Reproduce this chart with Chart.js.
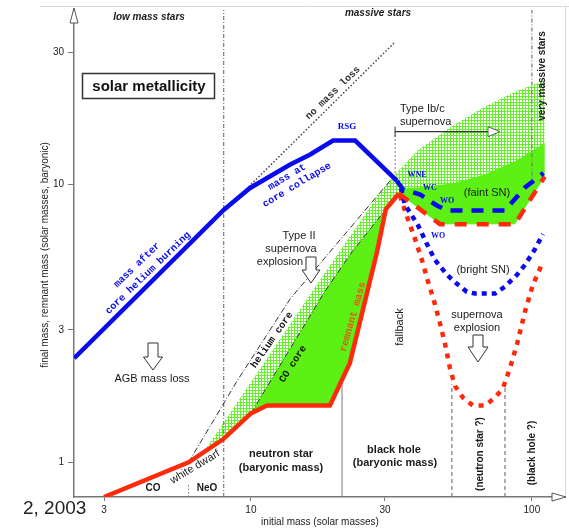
<!DOCTYPE html>
<html>
<head>
<meta charset="utf-8">
<script src="https://cdn.jsdelivr.net/npm/chart.js@4.4.0/dist/chart.umd.min.js"></script>
<style>
  html, body { margin: 0; padding: 0; background: #fff; }
  #wrap { width: 569px; height: 531px; }
</style>
</head>
<body>
<div id="wrap"><canvas id="grafico" width="569" height="531"></canvas></div>
<script>
// Marcas dos eixos (log)
const ticksX = [3, 10, 30, 100];
const ticksY = [1, 3, 10, 30];

// Massa final (azul contínua): após queima de hélio / no colapso do núcleo
const azulX = [2.35, 8, 9.9, 13.8, 16.2, 19.6, 23.5, 33.1];
const azulY = [2.37, 8.1, 9.7, 11.8, 12.8, 14.4, 14.4, 10.3];

// Azul tracejada (faint SN) e pontilhada (bright SN)
const azulFracaX = [33.1, 34.8, 40.0, 45.9, 49.9, 80.2, 94.5, 110];
const azulFracaY = [10.3, 9.6, 9.21, 8.41, 8.07, 8.07, 9.76, 11.0];
const azulBrilhoX = [34.2, 35.3, 39.3, 42.3, 45.2, 49.9, 54.1, 58.7, 62.7, 73.9, 80.2, 88.5, 94.5, 102.6, 109.5];
const azulBrilhoY = [9.68, 8.48, 7.14, 6.11, 5.35, 4.73, 4.39, 4.11, 4.05, 4.05, 4.29, 4.73, 5.14, 5.86, 6.63];

// Massa remanescente (vermelha contínua)
const vermelhaX = [3, 6, 7.96, 10, 11.4, 19.1, 22.5, 28.1, 30.2, 33.6];
const vermelhaY = [0.75, 1.0, 1.21, 1.5, 1.6, 1.6, 2.28, 5.72, 8.14, 9.28];

// Vermelha tracejada (faint SN) e pontilhada (bright SN)
const vermelhaFracaX = [33.6, 47.1, 87.0, 111];
const vermelhaFracaY = [9.28, 7.20, 7.20, 10.68];
const vermelhaBrilhoX = [33.9, 36.2, 38.4, 40.6, 42.7, 45.2, 47.1, 49.1, 51.1, 53.3, 56.8, 61.7, 68.1, 73.9, 78.9, 83.5, 88.5, 94.5, 100.9, 109.5];
const vermelhaBrilhoY = [9.13, 7.50, 6.36, 5.35, 4.47, 3.70, 3.16, 2.66, 2.18, 1.88, 1.71, 1.60, 1.60, 1.71, 1.85, 2.18, 2.66, 3.49, 4.36, 5.27];

// Núcleo de hélio, núcleo CO e "no mass loss"
const helioX = [6, 8.92, 13.8, 19.1, 32];
const helioY = [1, 1.96, 3.88, 5.72, 10.6];
const coX = [10, 18.3, 22.9, 30.2];
const coY = [1.5, 4.11, 5.72, 8.14];
const semPerdaX = [8, 32.3];
const semPerdaY = [8, 32.3];

// Bordas das regiões verdes
const hachuraTopoX = [6.86, 16.5, 28.8, 32.6, 39.3, 51.9, 68.1, 89.2, 111];
const hachuraTopoY = [1.104, 4.11, 9.36, 10.86, 13.3, 16.2, 19.1, 21.8, 23.7];
const verdeTopoX = [33.6, 33.9, 39.3, 51.9, 68.1, 89.2, 111];
const verdeTopoY = [9.28, 9.68, 9.76, 10.08, 10.86, 12.28, 14.13];

// Linhas divisórias verticais: [x, yInicio, yFim]
const divCO = [6, 0.75, 0.84];
const divBaixa = [8, 0.75, 42.5];
const divBuraco = [21.1, 0.75, 1.95];
const divFallback = [32.6, 11.0, 15.7];
const divNeutron = [51.9, 0.75, 1.91];
const divBuracoQ = [80.2, 0.75, 1.91];
const divMuito = [100, 10, 42.5];
// Seta Type Ib/c: [xInicio, xFim, y]
const setaIbc = [32.6, 77, 15.5];

function pts(xs, ys) {
  return xs.map((x, i) => ({ x: x, y: ys[i] }));
}
function vert(d) {
  return [{ x: d[0], y: d[1] }, { x: d[0], y: d[2] }];
}
function rev(a) {
  return a.slice().reverse();
}

const ctx = document.getElementById('grafico').getContext('2d');

// Padrão quadriculado verde
function criarHachura() {
  const c = document.createElement('canvas');
  c.width = 3; c.height = 3;
  const g = c.getContext('2d');
  g.fillStyle = '#ffffff';
  g.fillRect(0, 0, 3, 3);
  g.fillStyle = '#66f22a';
  g.fillRect(0, 0, 3, 1);
  g.fillRect(0, 0, 1, 3);
  return ctx.createPattern(c, 'repeat');
}

// Polígonos das regiões
const vermelhaPts = pts(vermelhaX, vermelhaY);
const vermelhaFracaPts = pts(vermelhaFracaX, vermelhaFracaY);
const poligonoHachura = pts(hachuraTopoX, hachuraTopoY)
  .concat(rev(vermelhaFracaPts))
  .concat(rev(vermelhaPts.filter(p => p.x >= 7.9 && p.x < 33.6)));
const poligonoVerdeEsq = pts(coX, coY)
  .concat(rev(vermelhaPts.filter(p => p.x > 10 && p.x < 30)))
  .concat([{ x: coX[0], y: coY[0] }]);
const poligonoVerdeDir = pts(verdeTopoX, verdeTopoY).concat(rev(vermelhaFracaPts));

const AZUL = '#0a0af0';
const VERMELHO = '#ff2a0a';
const CINZA = '#7a7a7a';

function linha(data, cor, largura, dash) {
  return { data: data, borderColor: cor, borderWidth: largura, borderDash: dash || [], fill: false, pointRadius: 0 };
}

const datasets = [
  linha(pts(azulX, azulY), AZUL, 4.5),
  linha(vermelhaPts, VERMELHO, 4.5),
  linha(pts(azulFracaX, azulFracaY), AZUL, 4.5, [12, 9]),
  linha(vermelhaFracaPts, VERMELHO, 4.5, [12, 10]),
  linha(pts(azulBrilhoX, azulBrilhoY), AZUL, 4.5, [5, 5]),
  linha(pts(vermelhaBrilhoX, vermelhaBrilhoY), VERMELHO, 4.5, [5, 6]),
  linha(pts(helioX, helioY), '#333', 1, [6, 2, 1, 2]),
  linha(pts(coX, coY), '#333', 1, [6, 2, 1, 2]),
  linha(pts(semPerdaX, semPerdaY), '#444', 1.5, [1.5, 2]),
  linha(vert(divCO), CINZA, 1, [1.5, 2]),
  linha(vert(divBaixa), CINZA, 1.2, [4, 2, 1, 2]),
  linha(vert(divBuraco), CINZA, 1),
  linha(vert(divFallback), CINZA, 1, [2, 2]),
  linha(vert(divNeutron), CINZA, 1.2, [4, 3]),
  linha(vert(divBuracoQ), CINZA, 1.2, [4, 3]),
  linha(vert(divMuito), CINZA, 1.2, [4, 2, 1, 2]),
  linha([{ x: setaIbc[0], y: setaIbc[2] }, { x: setaIbc[1] * 0.905, y: setaIbc[2] }], '#333', 1.2),
  { data: poligonoVerdeDir, borderWidth: 0, backgroundColor: '#5cf014', fill: 'shape', pointRadius: 0 },
  { data: poligonoVerdeEsq, borderWidth: 0, backgroundColor: '#5cf014', fill: 'shape', pointRadius: 0 },
  { data: poligonoHachura, borderWidth: 0, backgroundColor: criarHachura(), fill: 'shape', pointRadius: 0 }
];

// Textos, setas e moldura
function texto(c, s, x, y, fonte, cor, ang, alinha) {
  c.save();
  c.translate(x, y);
  c.rotate((ang || 0) * Math.PI / 180);
  c.font = fonte;
  c.fillStyle = cor;
  c.textAlign = alinha || 'center';
  c.textBaseline = 'middle';
  c.fillText(s, 0, 0);
  c.restore();
}

function setaBaixo(c, cx, topo, cabeca, ponta, meia, meiaCab) {
  c.save();
  c.beginPath();
  c.moveTo(cx - meia, topo);
  c.lineTo(cx + meia, topo);
  c.lineTo(cx + meia, cabeca);
  c.lineTo(cx + meiaCab, cabeca);
  c.lineTo(cx, ponta);
  c.lineTo(cx - meiaCab, cabeca);
  c.lineTo(cx - meia, cabeca);
  c.closePath();
  c.fillStyle = '#fff';
  c.fill();
  c.strokeStyle = '#333';
  c.lineWidth = 1;
  c.stroke();
  c.restore();
}

function triangulo(c, p1, p2, p3) {
  c.save();
  c.beginPath();
  c.moveTo(p1[0], p1[1]);
  c.lineTo(p2[0], p2[1]);
  c.lineTo(p3[0], p3[1]);
  c.closePath();
  c.fillStyle = '#fff';
  c.fill();
  c.strokeStyle = '#555';
  c.lineWidth = 1;
  c.stroke();
  c.restore();
}

const sans = '"Liberation Sans", Arial, sans-serif';
const mono = '"Liberation Mono", "Courier New", monospace';

const anotacoes = {
  id: 'anotacoes',
  afterDatasetsDraw(chart) {
    const c = chart.ctx;
    const sx = chart.scales.x, sy = chart.scales.y;
    const area = chart.chartArea;

    // moldura clara da página
    c.save();
    c.strokeStyle = '#d8d8d8';
    c.lineWidth = 1;
    c.beginPath();
    c.moveTo(40, 6.5); c.lineTo(569, 6.5);
    c.moveTo(565.5, 6); c.lineTo(565.5, 497);
    c.stroke();
    c.restore();

    // setas dos eixos
    triangulo(c, [area.left, 8], [area.left - 4, 23], [area.left + 4, 23]);
    c.save();
    c.strokeStyle = '#777'; c.lineWidth = 1.5;
    c.beginPath(); c.moveTo(area.right - 1, area.bottom); c.lineTo(553, area.bottom); c.stroke();
    c.restore();
    triangulo(c, [566, area.bottom], [552, area.bottom - 4], [552, area.bottom + 4]);

    // ponta da seta Type Ib/c
    const yI = sy.getPixelForValue(setaIbc[2]);
    const xI = sx.getPixelForValue(setaIbc[1]);
    triangulo(c, [xI, yI], [xI - 12, yI - 5], [xI - 12, yI + 5]);
    c.save();
    c.strokeStyle = '#333'; c.lineWidth = 1;
    const xF = sx.getPixelForValue(setaIbc[0]);
    c.beginPath(); c.moveTo(xF, yI - 5); c.lineTo(xF, yI + 5); c.stroke();
    c.restore();

    // setas ocas
    setaBaixo(c, 153, 343, 357, 370, 5, 9.5);
    setaBaixo(c, 311, 257, 270, 283, 5, 9);
    setaBaixo(c, 478, 335, 347, 362, 5, 10);

    // caixa "solar metallicity"
    c.save();
    c.fillStyle = '#fff';
    c.fillRect(82, 73, 133, 26);
    c.strokeStyle = '#333'; c.lineWidth = 1.5;
    c.strokeRect(82.5, 73.5, 132, 25);
    c.restore();
    texto(c, 'solar metallicity', 149, 86.5, 'bold 15px ' + sans, '#111');

    const preto = '#1a1a1a';
    texto(c, 'low mass stars', 149, 17, 'italic bold 10px ' + sans, preto);
    texto(c, 'massive stars', 378, 13, 'italic bold 10px ' + sans, preto);
    texto(c, 'very massive stars', 542, 76, 'bold 10px ' + sans, preto, -90);

    texto(c, 'RSG', 347, 127, 'bold 9px "Liberation Serif", serif', AZUL);
    texto(c, 'mass at', 287, 177, 'bold 10px ' + mono, AZUL, -31);
    texto(c, 'core collapse', 297, 185, 'bold 10px ' + mono, AZUL, -31);
    texto(c, 'mass after', 137, 265, 'bold 10px ' + mono, AZUL, -44);
    texto(c, 'core helium burning', 148, 273, 'bold 10px ' + mono, AZUL, -44);
    texto(c, 'no mass loss', 333, 93, 'bold 10px ' + mono, '#333', -44);

    texto(c, 'Type Ib/c', 400, 109, '11px ' + sans, preto, 0, 'left');
    texto(c, 'supernova', 400, 122, '11px ' + sans, preto, 0, 'left');
    texto(c, 'WNE', 417, 175, 'bold 8px "Liberation Serif", serif', AZUL);
    texto(c, 'WC', 430, 188, 'bold 8px "Liberation Serif", serif', AZUL);
    texto(c, 'WO', 447, 201, 'bold 8px "Liberation Serif", serif', AZUL);
    texto(c, 'WO', 438, 236, 'bold 8px "Liberation Serif", serif', AZUL);
    texto(c, '(faint SN)', 487, 193, '11px ' + sans, preto);
    texto(c, '(bright SN)', 483, 270, '11px ' + sans, preto);
    texto(c, 'supernova', 477, 315, '11px ' + sans, preto);
    texto(c, 'explosion', 477, 328, '11px ' + sans, preto);
    texto(c, 'fallback', 400, 327, '11px ' + sans, preto, -90);

    texto(c, 'Type II', 299, 236, '11px ' + sans, preto);
    texto(c, 'supernova', 291, 249, '11px ' + sans, preto);
    texto(c, 'explosion', 280, 262, '11px ' + sans, preto);
    texto(c, 'AGB mass loss', 152, 379, '11px ' + sans, preto);

    texto(c, 'helium core', 272, 340, 'bold 10px ' + mono, '#111', -55);
    texto(c, 'CO core', 293, 364, 'bold 10px ' + mono, '#111', -57);
    texto(c, 'remnant mass', 353, 317, 'bold 10px ' + mono, '#e35a14', -74);
    texto(c, 'white dwarf', 195, 467, '11px ' + sans, preto, -31);

    texto(c, 'CO', 153, 488, 'bold 10px ' + sans, preto);
    texto(c, 'NeO', 207, 488, 'bold 10px ' + sans, preto);
    texto(c, 'neutron star', 281, 454, 'bold 11px ' + sans, preto);
    texto(c, '(baryonic mass)', 281, 468, 'bold 11px ' + sans, preto);
    texto(c, 'black hole', 394, 450, 'bold 11px ' + sans, preto);
    texto(c, '(baryonic mass)', 395, 463, 'bold 11px ' + sans, preto);
    texto(c, '(neutron star ?)', 480, 454, 'bold 10px ' + sans, preto, -90);
    texto(c, '(black hole ?)', 532, 453, 'bold 10px ' + sans, preto, -90);

    texto(c, 'final mass, remnant mass (solar masses, baryonic)', 45, 255, '10px ' + sans, '#222', -90);
    texto(c, 'initial mass (solar masses)', 320, 522, '10px ' + sans, '#222');
    texto(c, '2, 2003', 23, 509, '19px ' + sans, '#222', 0, 'left');
  }
};

new Chart(ctx, {
  type: 'line',
  data: { datasets: datasets },
  options: {
    responsive: false,
    animation: false,
    layout: { padding: { top: 6, right: 9, left: 0, bottom: 0 } },
    plugins: { legend: { display: false }, tooltip: { enabled: false } },
    elements: { point: { radius: 0 }, line: { tension: 0, borderCapStyle: 'butt' } },
    scales: {
      x: {
        type: 'logarithmic',
        min: 2.346,
        max: 125.9,
        afterBuildTicks: s => { s.ticks = ticksX.map(v => ({ value: v })); },
        afterFit: s => { s.height = 34; },
        ticks: { autoSkip: false, maxRotation: 0, padding: 3, color: '#222', font: { size: 10, family: sans }, callback: v => String(v) },
        grid: { drawOnChartArea: false, tickLength: 4, color: '#777' },
        border: { color: '#777', width: 1.5 }
      },
      y: {
        type: 'logarithmic',
        min: 0.75,
        max: 42.5,
        afterBuildTicks: s => { s.ticks = ticksY.map(v => ({ value: v })); },
        afterFit: s => { s.width = 74; },
        ticks: { autoSkip: false, padding: 4, color: '#222', font: { size: 10, family: sans }, callback: v => String(v) },
        grid: { drawOnChartArea: false, tickLength: 6, color: '#777' },
        border: { color: '#777', width: 1.5 }
      }
    }
  },
  plugins: [anotacoes]
});
</script>
</body>
</html>
